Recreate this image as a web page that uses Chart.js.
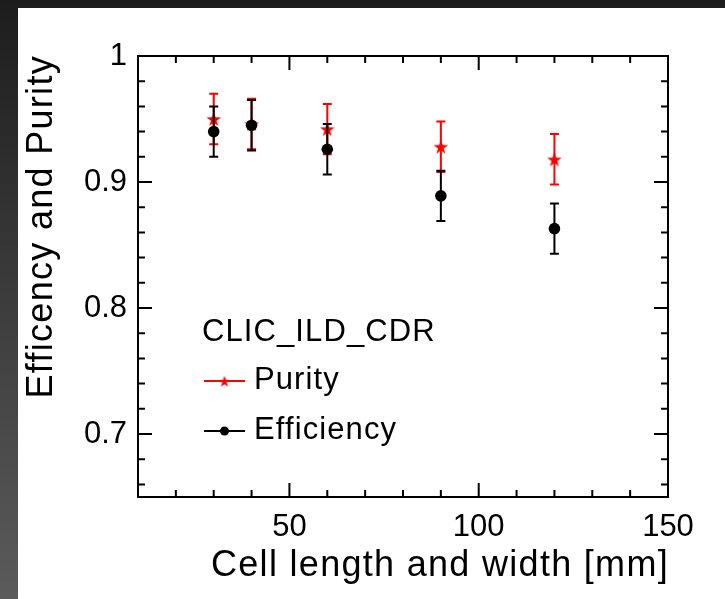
<!DOCTYPE html>
<html>
<head>
<meta charset="utf-8">
<title>Efficency and Purity</title>
<script src="https://cdn.jsdelivr.net/npm/chart.js@4.4.1/dist/chart.umd.min.js"></script>
<style>
  html, body { margin: 0; padding: 0; }
  body {
    width: 725px; height: 599px; overflow: hidden; position: relative;
    background: linear-gradient(to bottom, #1d1d1d, #5b5b5b);
  }
  #panel { position: absolute; left: 18px; top: 8px; right: 0; bottom: 0; background: #fff; }
  #chart { position: absolute; left: 0; top: 0; }
</style>
</head>
<body>
<div id="panel"></div>
<canvas id="chart" width="725" height="599"></canvas>
<script>
// ---------------------------
// Data
// ---------------------------
const cellSizes = [30, 40, 60, 90, 120];
const purity = [0.950, 0.946, 0.942, 0.928, 0.918];
const purityErr = [0.02, 0.02, 0.02, 0.02, 0.02];
const efficiency = [0.940, 0.945, 0.926, 0.889, 0.863];
const efficiencyErr = [0.02, 0.02, 0.02, 0.02, 0.02];

const xTicks = [20, 30, 40, 50, 60, 70, 80, 90, 100, 110, 120, 130, 140, 150];
const xMajor = [50, 100, 150];
const yTicks = [0.66, 0.68, 0.70, 0.72, 0.74, 0.76, 0.78, 0.80, 0.82, 0.84, 0.86, 0.88, 0.90, 0.92, 0.94, 0.96, 0.98, 1.0];
const yMajor = [0.7, 0.8, 0.9, 1.0];

const xTitle = "Cell length and width [mm]";
const yTitle = "Efficency and Purity";
const legendHeader = "CLIC_ILD_CDR";

const FONT = "'Liberation Sans', Arial, Helvetica, sans-serif";
const isMajor = (list, v) => list.some(m => Math.abs(m - v) < 1e-6);

// filled 5-point star, like ROOT marker 29
function makeStar(radius, color) {
    const size = Math.ceil(radius * 2) + 2;
    const c = document.createElement("canvas");
    c.width = size; c.height = size;
    const g = c.getContext("2d");
    g.fillStyle = color;
    g.beginPath();
    for (let i = 0; i < 10; i++) {
        const r = i % 2 === 0 ? radius : radius * 0.4;
        const a = -Math.PI / 2 + i * Math.PI / 5;
        const px = size / 2 + r * Math.cos(a);
        const py = size / 2 + 0.8 + r * Math.sin(a);
        if (i === 0) g.moveTo(px, py); else g.lineTo(px, py);
    }
    g.closePath();
    g.fill();
    return c;
}

const bigStar = makeStar(7.6, "#ff0000");
const smallStar = makeStar(6, "#ff0000");

// ---------------------------
// Error bars (drawn under each dataset's markers)
// ---------------------------
const errorBars = {
    id: "errorBars",
    beforeDatasetDraw(chart, args) {
        const ds = chart.data.datasets[args.index];
        const { ctx, scales: { x, y } } = chart;
        ctx.save();
        ctx.strokeStyle = ds.borderColor;
        ctx.lineWidth = 2;
        ds.data.forEach((p, i) => {
            const px = x.getPixelForValue(p.x);
            const top = y.getPixelForValue(p.y + ds.errors[i]);
            const bot = y.getPixelForValue(p.y - ds.errors[i]);
            ctx.beginPath();
            ctx.moveTo(px, top); ctx.lineTo(px, bot);
            ctx.moveTo(px - 4.5, top); ctx.lineTo(px + 4.5, top);
            ctx.moveTo(px - 4.5, bot); ctx.lineTo(px + 4.5, bot);
            ctx.stroke();
        });
        ctx.restore();
    }
};

// ---------------------------
// ROOT style frame, inner ticks, titles, legend
// ---------------------------
const rootFrame = {
    id: "rootFrame",
    afterDraw(chart) {
        const { ctx, chartArea: a, scales: { x, y } } = chart;
        ctx.save();
        ctx.strokeStyle = "#000";
        ctx.lineWidth = 2;
        ctx.strokeRect(a.left, a.top, a.right - a.left, a.bottom - a.top);

        ctx.beginPath();
        xTicks.forEach(v => {
            const px = x.getPixelForValue(v);
            const len = isMajor(xMajor, v) ? 14 : 7;
            ctx.moveTo(px, a.bottom); ctx.lineTo(px, a.bottom - len);
            ctx.moveTo(px, a.top); ctx.lineTo(px, a.top + len);
        });
        yTicks.forEach(v => {
            const py = y.getPixelForValue(v);
            const len = isMajor(yMajor, v) ? 14 : 7;
            ctx.moveTo(a.left, py); ctx.lineTo(a.left + len, py);
            ctx.moveTo(a.right, py); ctx.lineTo(a.right - len, py);
        });
        ctx.stroke();

        // axis titles
        ctx.fillStyle = "#000";
        ctx.font = `36px ${FONT}`;
        ctx.letterSpacing = "1.3px";
        ctx.textAlign = "right";
        ctx.textBaseline = "alphabetic";
        ctx.fillText(xTitle, a.right + 1, a.bottom + 79);
        ctx.save();
        ctx.translate(a.left - 86, a.top - 1);
        ctx.rotate(-Math.PI / 2);
        ctx.fillText(yTitle, 0, 0);
        ctx.restore();

        // legend
        ctx.font = `31px ${FONT}`;
        ctx.letterSpacing = "1.1px";
        ctx.textAlign = "left";
        ctx.fillText(legendHeader, 202, 341);

        const rows = [
            { ds: chart.data.datasets[1], y: 381, marker: "star" },
            { ds: chart.data.datasets[0], y: 431, marker: "circle" }
        ];
        rows.forEach(r => {
            ctx.strokeStyle = r.ds.borderColor;
            ctx.lineWidth = 2;
            ctx.beginPath();
            ctx.moveTo(204, r.y); ctx.lineTo(245, r.y);
            ctx.stroke();
            if (r.marker === "star") {
                ctx.drawImage(smallStar, 224.5 - smallStar.width / 2, r.y - smallStar.height / 2);
            } else {
                ctx.fillStyle = r.ds.backgroundColor;
                ctx.beginPath();
                ctx.arc(224.5, r.y, 4.5, 0, Math.PI * 2);
                ctx.fill();
            }
            ctx.fillStyle = "#000";
            ctx.fillText(r.ds.label, 254, r.y + 8);
        });
        ctx.restore();
    }
};

const ctx = document.getElementById("chart").getContext("2d");
new Chart(ctx, {
    type: "scatter",
    data: {
        datasets: [
            {
                label: "Efficiency",
                data: cellSizes.map((c, i) => ({ x: c, y: efficiency[i] })),
                errors: efficiencyErr,
                borderColor: "#000000",
                backgroundColor: "#000000",
                pointStyle: "circle",
                pointRadius: 5.8,
                pointBorderWidth: 0,
                showLine: false
            },
            {
                label: "Purity",
                data: cellSizes.map((c, i) => ({ x: c, y: purity[i] })),
                errors: purityErr,
                borderColor: "#ff0000",
                backgroundColor: "#ff0000",
                pointStyle: bigStar,
                pointRadius: 8,
                showLine: false
            }
        ]
    },
    options: {
        responsive: false,
        animation: false,
        events: [],
        layout: { padding: { top: 56, right: 57, left: 0, bottom: 0 } },
        plugins: {
            legend: { display: false },
            tooltip: { enabled: false }
        },
        scales: {
            x: {
                type: "linear",
                min: 10,
                max: 150,
                grid: { display: false, drawTicks: false },
                border: { display: false },
                afterBuildTicks: s => { s.ticks = xTicks.map(v => ({ value: v })); },
                afterFit: s => { s.height = 102; },
                ticks: {
                    autoSkip: false,
                    maxRotation: 0,
                    padding: 12,
                    color: "#000",
                    font: { family: FONT, size: 31 },
                    callback: v => (isMajor(xMajor, v) ? String(v) : "")
                }
            },
            y: {
                type: "linear",
                min: 0.65,
                max: 1.0,
                grid: { display: false, drawTicks: false },
                border: { display: false },
                afterBuildTicks: s => { s.ticks = yTicks.map(v => ({ value: v })); },
                afterFit: s => { s.width = 138; },
                ticks: {
                    autoSkip: false,
                    padding: 11,
                    color: "#000",
                    font: { family: FONT, size: 31 },
                    callback: v => (isMajor(yMajor, v) ? String(Math.round(v * 10) / 10) : "")
                }
            }
        }
    },
    plugins: [errorBars, rootFrame]
});
</script>
</body>
</html>
